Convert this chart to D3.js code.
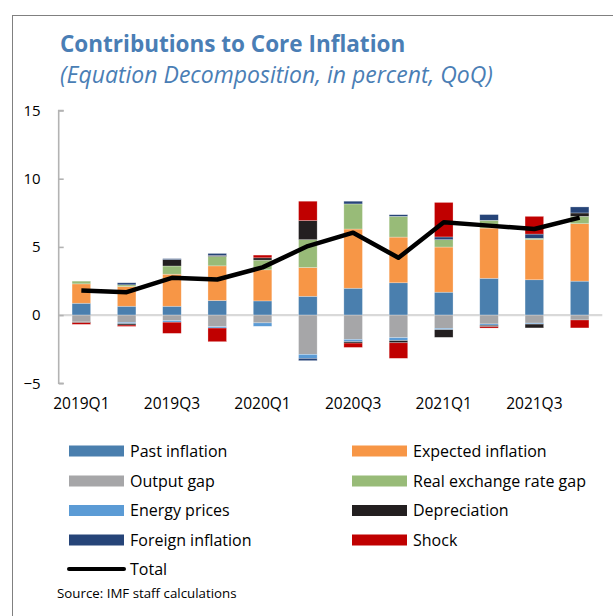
<!DOCTYPE html>
<html>
<head>
<meta charset="utf-8">
<script src="https://cdn.jsdelivr.net/npm/d3@7/dist/d3.min.js"></script>
<style>
  html, body { margin: 0; padding: 0; background: #fff; }
  svg { display: block; font-family: "Open Sans", "Noto Sans", sans-serif; }
</style>
</head>
<body>
<svg id="chart" width="613" height="616"></svg>
<script>
// Quarterly decomposition of core inflation (percent, QoQ)
const quarters = ["2019Q1","2019Q2","2019Q3","2019Q4","2020Q1","2020Q2",
                  "2020Q3","2020Q4","2021Q1","2021Q2","2021Q3","2021Q4"];
const tickQuarters = ["2019Q1","2019Q3","2020Q1","2020Q3","2021Q1","2021Q3"];
const yTicks = [-5, 0, 5, 10, 15];

const pastInflation     = [0.87, 0.65, 0.65, 1.07, 1.04, 1.38, 1.97, 2.37, 1.68, 2.70, 2.59, 2.49];
const expectedInflation = [1.42, 1.45, 2.35, 2.54, 2.28, 2.11, 4.34, 3.35, 3.31, 3.68, 2.94, 4.21];
const outputGap         = [-0.50, -0.53, -0.40, -0.85, -0.57, -2.88, -1.78, -1.65, -0.97, -0.65, -0.59, -0.36];
const rerGap            = [0.20, 0.12, 0.60, 0.69, 0.71, 2.04, 1.84, 1.52, 0.54, 0.57, 0.10, 0.54];
const energyPrices      = [0.00, -0.10, -0.12, -0.10, -0.25, -0.29, -0.17, -0.22, -0.10, -0.10, -0.07, 0.00];
const depreciation      = [-0.06, -0.10, 0.47, 0.07, 0.17, 1.40, -0.10, -0.16, -0.56, -0.10, -0.28, 0.25];
const foreignInflation  = [0.00, 0.15, 0.07, 0.15, 0.00, -0.17, 0.20, 0.12, 0.20, 0.42, 0.31, 0.44];
const shock             = [-0.12, -0.10, -0.82, -1.00, 0.20, 1.42, -0.32, -1.14, 2.53, -0.10, 1.30, -0.58];
const total             = [1.80, 1.68, 2.73, 2.61, 3.50, 5.06, 6.04, 4.20, 6.80, 6.56, 6.31, 7.15];

const seriesNames = ["Past inflation","Expected inflation","Output gap","Real exchange rate gap",
                     "Energy prices","Depreciation","Foreign inflation","Shock"];
const seriesValues = [pastInflation, expectedInflation, outputGap, rerGap,
                      energyPrices, depreciation, foreignInflation, shock];
const seriesColors = ["#4a7fae","#f79646","#a6a6a8","#98bb78",
                      "#5b9bd5","#231f20","#264478","#c00000"];

const svg = d3.select("#chart");

// outer panel border
svg.append("rect")
  .attr("x", 12.5).attr("y", 15.5)
  .attr("width", 700).attr("height", 700)
  .attr("fill", "none").attr("stroke", "#808080").attr("stroke-width", 1);

// titles
svg.append("text")
  .attr("x", 60).attr("y", 52)
  .attr("fill", "#4a7eb5")
  .attr("font-size", 22.5).attr("font-weight", 700)
  .text("Contributions to Core Inflation");
svg.append("text")
  .attr("x", 60).attr("y", 83)
  .attr("fill", "#4a7eb5")
  .attr("font-size", 23).attr("font-style", "italic")
  .text("(Equation Decomposition, in percent, QoQ)");

// scales
const x = d3.scaleBand().domain(quarters).range([58.7, 602.3])
  .paddingInner(0.59).paddingOuter(0.295);
const y = d3.scaleLinear().domain([-5, 15]).range([383.3, 110.5]);

// rows for stacking
const rows = quarters.map((q, i) => {
  const r = { quarter: q };
  seriesNames.forEach((n, k) => { r[n] = seriesValues[k][i]; });
  return r;
});
const stacked = d3.stack().keys(seriesNames)
  .order(d3.stackOrderNone).offset(d3.stackOffsetDiverging)(rows);

// zero line
svg.append("line")
  .attr("x1", 58.7).attr("x2", 602.3)
  .attr("y1", y(0)).attr("y2", y(0))
  .attr("stroke", "#d9d9d9").attr("stroke-width", 2.2);

// bars
const barG = svg.append("g");
stacked.forEach((layer, k) => {
  barG.append("g").attr("fill", seriesColors[k])
    .selectAll("rect").data(layer.filter(d => d[1] !== d[0])).join("rect")
    .attr("x", d => x(d.data.quarter))
    .attr("width", x.bandwidth())
    .attr("y", d => y(Math.max(d[0], d[1])))
    .attr("height", d => Math.abs(y(d[0]) - y(d[1])))
    .attr("stroke", "#ffffff").attr("stroke-opacity", 0.45).attr("stroke-width", 0.6);
});

// y axis
const yAxis = d3.axisLeft(y).tickValues(yTicks).tickSize(-5).tickPadding(18);
const gy = svg.append("g").attr("transform", "translate(58.7,0)").call(yAxis);
gy.select(".domain").attr("stroke", "#b3b3b3").attr("stroke-width", 1.6)
  .attr("d", `M5,${y(15)}H0V${y(-5)}H5`);
gy.selectAll(".tick line").attr("stroke", "#b3b3b3").attr("stroke-width", 1.6);
gy.selectAll(".tick text").attr("font-size", 15).attr("fill", "#000")
  .attr("font-family", "'Open Sans', sans-serif");

// x labels
const xAxis = d3.axisBottom(x).tickValues(tickQuarters).tickSize(0).tickPadding(0);
const gx = svg.append("g").attr("transform", "translate(0,398)").call(xAxis);
gx.select(".domain").remove();
gx.selectAll(".tick text").attr("font-size", 15.5).attr("fill", "#000")
  .attr("font-family", "'Open Sans', sans-serif");

// total line
svg.append("path")
  .datum(total)
  .attr("fill", "none").attr("stroke", "#000").attr("stroke-width", 4.5)
  .attr("stroke-linejoin", "round")
  .attr("d", d3.line().x((d, i) => x(quarters[i]) + x.bandwidth() / 2).y(d => y(d)));

// legend
const legend = svg.append("g");
const legendCols = [69, 352];
const legendRows = [451, 481, 510.5, 540, 569];
seriesNames.forEach((n, k) => {
  const cx = legendCols[k % 2], cy = legendRows[Math.floor(k / 2)];
  legend.append("rect").attr("x", cx).attr("y", cy - 5.5)
    .attr("width", 55).attr("height", 11).attr("fill", seriesColors[k]);
  legend.append("text").attr("x", cx + 61).attr("y", cy).attr("dy", "0.35em")
    .attr("font-size", 16).attr("fill", "#000").text(n);
});
legend.append("line")
  .attr("x1", 69).attr("x2", 124).attr("y1", legendRows[4]).attr("y2", legendRows[4])
  .attr("stroke", "#000").attr("stroke-width", 4).attr("stroke-linecap", "round");
legend.append("text").attr("x", 130).attr("y", legendRows[4]).attr("dy", "0.35em")
  .attr("font-size", 16).attr("fill", "#000").text("Total");

// source note
svg.append("text").attr("x", 57).attr("y", 598)
  .attr("font-size", 13.3).attr("fill", "#000")
  .text("Source: IMF staff calculations");
</script>
</body>
</html>
